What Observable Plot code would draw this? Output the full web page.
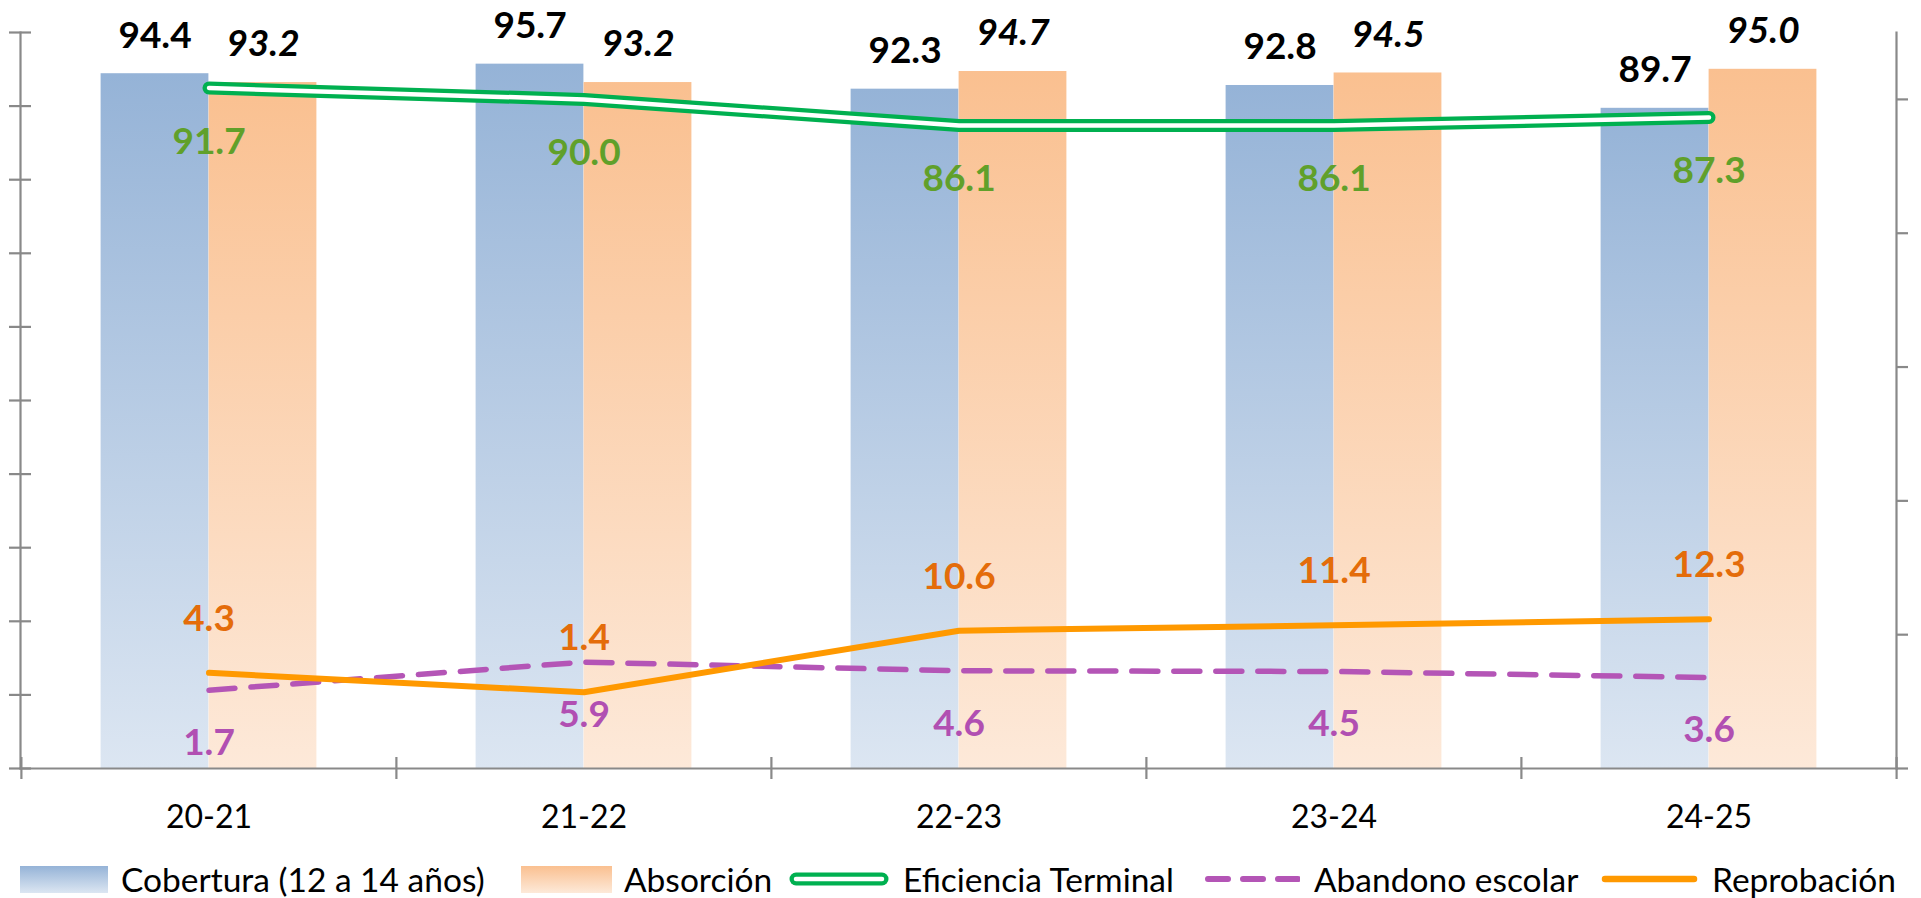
<!DOCTYPE html>
<html>
<head>
<meta charset="utf-8">
<script src="https://cdn.jsdelivr.net/npm/d3@7"></script>
<script src="https://cdn.jsdelivr.net/npm/@observablehq/plot@0.6"></script>
<style>
  html, body { margin: 0; padding: 0; background: #ffffff; }
  #wrap { position: relative; width: 1921px; height: 898px; overflow: hidden; font-family: Lato, "Open Sans", sans-serif; }
  #legend { position: absolute; left: 0; top: 861px; width: 1921px; height: 36px; }
  .sw { position: absolute; top: 0; height: 36px; display: flex; align-items: center; }
  .tx { position: absolute; top: 0; height: 36px; line-height: 36px; font-size: 33.5px; color: #000; white-space: nowrap; }
</style>
</head>
<body>
<div id="wrap"><div id="chart"></div><div id="legend"></div></div>
<script>
// ---- data ----
const categories = ["20-21", "21-22", "22-23", "23-24", "24-25"];
const cobertura = [94.4, 95.7, 92.3, 92.8, 89.7];
const absorcion = [93.2, 93.2, 94.7, 94.5, 95.0];
const eficiencia = [91.7, 90.0, 86.1, 86.1, 87.3];
const abandono = [1.7, 5.9, 4.6, 4.5, 3.6];
const reprobacion = [4.3, 1.4, 10.6, 11.4, 12.3];
const leftTicks = [0, 10, 20, 30, 40, 50, 60, 70, 80, 90, 100];
const leftDomain = [0, 100];
const rightTicks = [-10, 10, 30, 50, 70, 90];
const rightDomain = [-10, 100];
const seriesNames = ["Cobertura (12 a 14 años)", "Absorción", "Eficiencia Terminal", "Abandono escolar", "Reprobación"];

// secondary axis values expressed on the primary scale
const toLeft = v => leftDomain[0] + (v - rightDomain[0]) / (rightDomain[1] - rightDomain[0]) * (leftDomain[1] - leftDomain[0]);

const rows = categories.map((c, i) => ({
  cat: c, cob: cobertura[i], abs: absorcion[i], ef: eficiencia[i], ab: abandono[i], rep: reprobacion[i]
}));

// ---- layout / style ----
const W = 1921, H = 858;
const mL = 20, mR = 25, mT = 32, mB = H - 768;
const frameW = W - mL - mR, frameH = H - mT - mB;
const band = frameW / categories.length;
const barW = 108;
const axisColor = "#898989";
const cBlue = ["#95B3D7", "#DCE6F2"];
const cOrange = ["#FAC090", "#FDE9D9"];
const green = "#00B050", purple = "#B455B6", orangeLine = "#FF9900";
const greenText = "#60A02A", purpleText = "#B14FB2", orangeText = "#E46C0A";
const labelFont = 37;

const fmt = v => v.toFixed(1);

const plot = Plot.plot({
  width: W, height: H,
  marginLeft: mL, marginRight: mR, marginTop: mT, marginBottom: mB,
  x: { domain: categories, padding: 0, axis: null },
  y: { domain: leftDomain, axis: null },
  style: { fontFamily: "Lato, 'Open Sans', sans-serif", background: "transparent", overflow: "visible" },
  marks: [
    // bars
    Plot.barY(rows, { x: "cat", y: "cob", fill: "url(#gBlue)", insetLeft: band / 2 - barW, insetRight: band / 2 }),
    Plot.barY(rows, { x: "cat", y: "abs", fill: "url(#gOrange)", insetLeft: band / 2, insetRight: band / 2 - barW }),
    // axes
    Plot.frame({ anchor: "left", stroke: axisColor, strokeWidth: 2.2 }),
    Plot.frame({ anchor: "right", stroke: axisColor, strokeWidth: 2.2 }),
    Plot.frame({ anchor: "bottom", stroke: axisColor, strokeWidth: 2.2 }),
    Plot.tickY(leftTicks, { y: d => d, stroke: axisColor, strokeWidth: 2.2, insetLeft: -11, insetRight: frameW - 11 }),
    Plot.tickY(rightTicks, { y: d => toLeft(d), stroke: axisColor, strokeWidth: 2.2, insetLeft: frameW, insetRight: -12 }),
    Plot.tickX(categories, { x: d => d, dx: -band / 2, stroke: axisColor, strokeWidth: 2.2, insetTop: frameH - 11, insetBottom: -11 }),
    Plot.tickX(categories.slice(-1), { x: d => d, dx: band / 2, stroke: axisColor, strokeWidth: 2.2, insetTop: frameH - 11, insetBottom: -11 }),
    // lines
    Plot.line(rows, { x: "cat", y: d => toLeft(d.ab), stroke: purple, strokeWidth: 5.5, strokeDasharray: "26,16", strokeLinecap: "round", strokeLinejoin: "round" }),
    Plot.line(rows, { x: "cat", y: d => toLeft(d.rep), stroke: orangeLine, strokeWidth: 6, strokeLinecap: "round", strokeLinejoin: "round" }),
    Plot.line(rows, { x: "cat", y: d => toLeft(d.ef), stroke: green, strokeWidth: 13, strokeLinecap: "round", strokeLinejoin: "round" }),
    Plot.line(rows, { x: "cat", y: d => toLeft(d.ef), stroke: "#ffffff", strokeWidth: 4.5, strokeLinecap: "round", strokeLinejoin: "round" }),
    // data labels
    Plot.text(rows, { x: "cat", y: "cob", text: d => fmt(d.cob), dx: -barW / 2, dy: -38, fontSize: labelFont, fontWeight: "bold", fill: "#000" }),
    Plot.text(rows, { x: "cat", y: "abs", text: d => fmt(d.abs), dx: barW / 2, dy: -38, fontSize: labelFont, fontWeight: "bold", fontStyle: "italic", fill: "#000" }),
    Plot.text(rows, { x: "cat", y: d => toLeft(d.ef), text: d => fmt(d.ef), dy: 54, fontSize: labelFont, fontWeight: "bold", fill: greenText }),
    Plot.text(rows, { x: "cat", y: d => toLeft(d.rep), text: d => fmt(d.rep), dy: -54, fontSize: labelFont, fontWeight: "bold", fill: orangeText }),
    Plot.text(rows, { x: "cat", y: d => toLeft(d.ab), text: d => fmt(d.ab), dy: 53, fontSize: labelFont, fontWeight: "bold", fill: purpleText }),
    // category labels
    Plot.text(rows, { x: "cat", text: "cat", frameAnchor: "bottom", dy: 59, fontSize: 32, fill: "#000" })
  ]
});

// gradient definitions for bars
const ns = "http://www.w3.org/2000/svg";
const defs = document.createElementNS(ns, "defs");
defs.innerHTML =
  `<linearGradient id="gBlue" x1="0" y1="0" x2="0" y2="1"><stop offset="0" stop-color="${cBlue[0]}"/><stop offset="1" stop-color="${cBlue[1]}"/></linearGradient>` +
  `<linearGradient id="gOrange" x1="0" y1="0" x2="0" y2="1"><stop offset="0" stop-color="${cOrange[0]}"/><stop offset="1" stop-color="${cOrange[1]}"/></linearGradient>`;
plot.insertBefore(defs, plot.firstChild);
document.getElementById("chart").appendChild(plot);

// ---- legend ----
const swatchLeft = [20, 521, 788, 1204, 1601];
const textLeft = [121, 624, 903, 1314, 1712];
const swatch = [
  `<div style="width:88px;height:27px;background:linear-gradient(${cBlue[0]},${cBlue[1]})"></div>`,
  `<div style="width:91px;height:27px;background:linear-gradient(${cOrange[0]},${cOrange[1]})"></div>`,
  `<svg width="102" height="20"><line x1="8" y1="10" x2="94" y2="10" stroke="${green}" stroke-width="13" stroke-linecap="round"/><line x1="8" y1="10" x2="94" y2="10" stroke="#fff" stroke-width="4.5" stroke-linecap="round"/></svg>`,
  `<svg width="96" height="20"><line x1="4" y1="10" x2="94" y2="10" stroke="${purple}" stroke-width="6" stroke-dasharray="20,15" stroke-linecap="round"/></svg>`,
  `<svg width="97" height="20"><line x1="4" y1="10" x2="93" y2="10" stroke="${orangeLine}" stroke-width="6.5" stroke-linecap="round"/></svg>`
];
const lg = document.getElementById("legend");
seriesNames.forEach((name, i) => {
  const s = document.createElement("div");
  s.className = "sw";
  s.style.left = swatchLeft[i] + "px";
  s.innerHTML = swatch[i];
  lg.appendChild(s);
  const t = document.createElement("div");
  t.className = "tx";
  t.style.left = textLeft[i] + "px";
  t.textContent = name;
  lg.appendChild(t);
});
</script>
</body>
</html>
